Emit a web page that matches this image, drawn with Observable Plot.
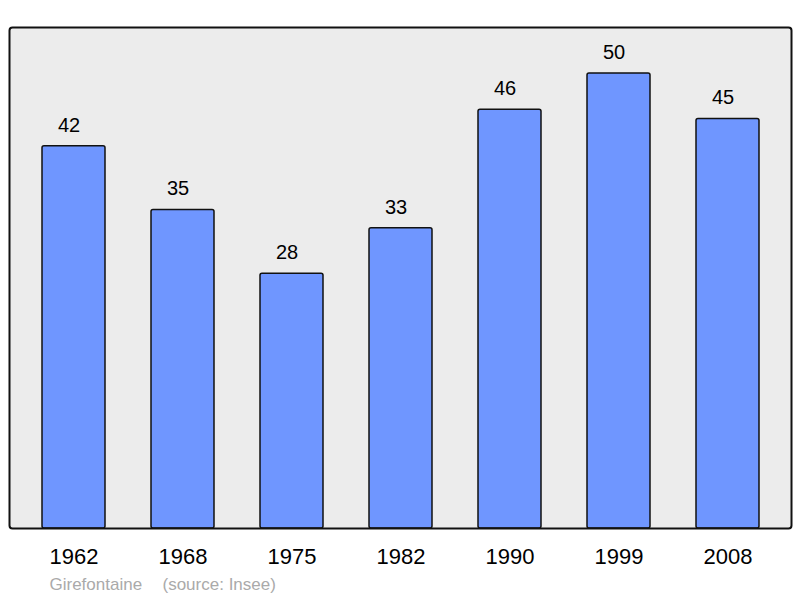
<!DOCTYPE html>
<html>
<head>
<meta charset="utf-8">
<script src="https://cdn.jsdelivr.net/npm/d3@7"></script>
<script src="https://cdn.jsdelivr.net/npm/@observablehq/plot@0.6"></script>
<style>
  html, body { margin: 0; padding: 0; background: #fff; }
  svg { display: block; }
</style>
</head>
<body>
<div id="chart"></div>
<script>
const years = ["1962", "1968", "1975", "1982", "1990", "1999", "2008"];
const population = [42, 35, 28, 33, 46, 50, 45];
const commune = "Girefontaine";
const source = "(source: Insee)";

const data = years.map((y, i) => ({year: y, value: population[i]}));

const chart = Plot.plot({
  width: 800,
  height: 598,
  marginTop: 27,
  marginBottom: 70,
  marginLeft: 9,
  marginRight: 9,
  style: {fontFamily: "'Liberation Sans', Arial, sans-serif", background: "#fff"},
  x: {domain: years, paddingInner: 0.425, paddingOuter: 0.288, axis: null},
  y: {domain: [0, 55.05], axis: null},
  marks: [
    Plot.frame({fill: "#ececec"}),
    Plot.barY(data, {x: "year", y: "value", fill: "#6f96ff", stroke: "#111", strokeWidth: 1.5, rx: 2}),
    Plot.frame({stroke: "#111", strokeWidth: 2, rx: 3}),
    Plot.text(data, {x: "year", y: "value", text: d => String(d.value), dx: -5, dy: -21, fontSize: 20, fill: "#000", lineAnchor: "middle"}),
    Plot.text(years, {x: d => d, text: d => d, frameAnchor: "bottom", dy: 28, fontSize: 22, fill: "#000", lineAnchor: "middle"}),
    Plot.text([commune], {frameAnchor: "bottom-left", dx: 40, dy: 56, fontSize: 17, fill: "#aaa", textAnchor: "start", lineAnchor: "middle"}),
    Plot.text([source], {frameAnchor: "bottom-left", dx: 153, dy: 56, fontSize: 17, fill: "#aaa", textAnchor: "start", lineAnchor: "middle"})
  ]
});
document.getElementById("chart").appendChild(chart);
</script>
</body>
</html>
